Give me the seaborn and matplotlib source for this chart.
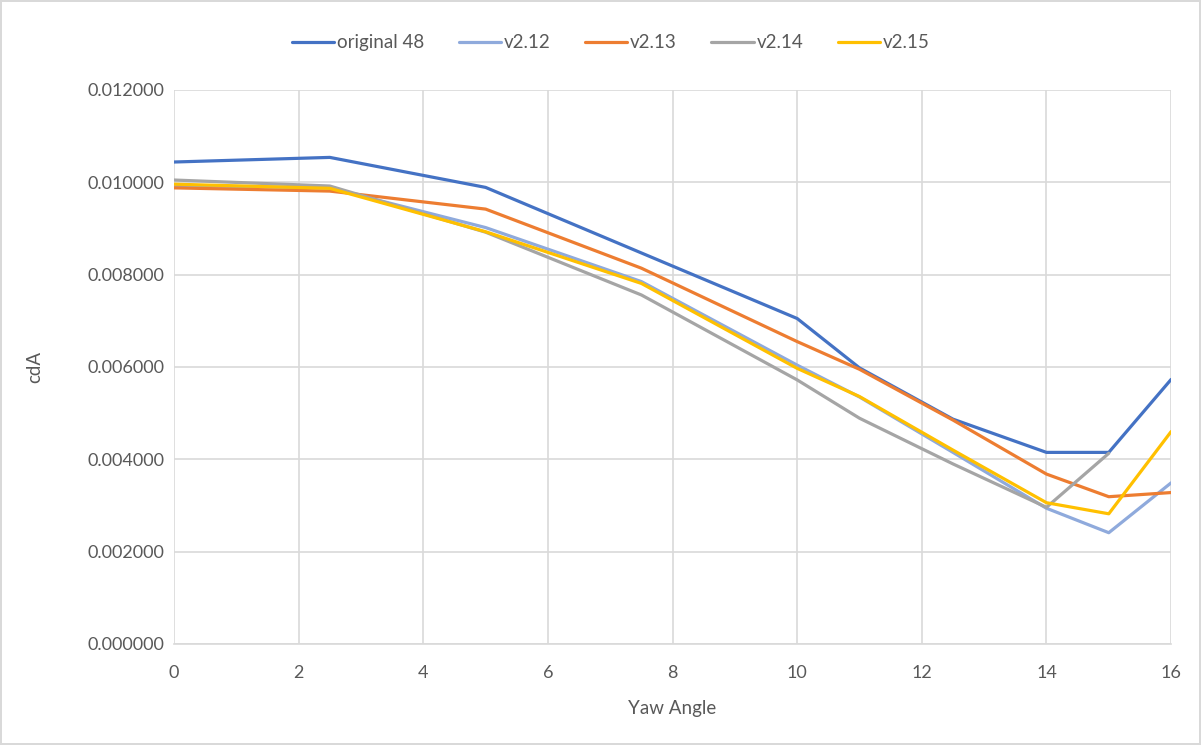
import numpy as np
import pandas as pd
import matplotlib
matplotlib.use("Agg")
import matplotlib.pyplot as plt
import seaborn as sns
from matplotlib.ticker import FormatStrFormatter, MultipleLocator

# Data
yaw_angle = [0, 2.5, 5, 7.5, 10, 11, 12.5, 14, 15, 16]
original_48 = [0.01044, 0.01054, 0.00989, 0.00847, 0.00705, 0.00598, 0.00487, 0.00415, 0.00415, 0.00573]
v2_12 = [0.00993, 0.00988, 0.00902, 0.00785, 0.00604, 0.00535, 0.00415, 0.00294, 0.00241, 0.00349]
v2_13 = [0.00988, 0.00981, 0.00942, 0.00814, 0.00655, 0.00595, 0.00485, 0.00368, 0.00319, 0.00328]
v2_14 = [0.01005, 0.00992, 0.00892, 0.00756, 0.00572, 0.00489, 0.00390, 0.00296, 0.00413, np.nan]
v2_15 = [0.00996, 0.00987, 0.00893, 0.00781, 0.00597, 0.00536, 0.00420, 0.00306, 0.00282, 0.00460]

series_names = ["original 48", "v2.12", "v2.13", "v2.14", "v2.15"]
series_values = [original_48, v2_12, v2_13, v2_14, v2_15]
colors = ["#4472C4", "#8FAADC", "#ED7D31", "#A5A5A5", "#FFC000"]

frames = []
for name, vals in zip(series_names, series_values):
    frames.append(pd.DataFrame({"Yaw Angle": yaw_angle, "cdA": vals, "series": name}))
df = pd.concat(frames, ignore_index=True).dropna()

sns.set_style("white")
plt.rcParams["font.family"] = ["Lato", "DejaVu Sans"]
text_color = "#595959"

fig = plt.figure(figsize=(12.01, 7.45), dpi=100)
fig.patch.set_edgecolor("#D9D9D9")
fig.patch.set_linewidth(1.5)
ax = fig.add_axes([0.1449, 0.1356, 0.8302, 0.7436])

sns.lineplot(data=df, x="Yaw Angle", y="cdA", hue="series", hue_order=series_names,
             palette=colors, linewidth=2.3, ax=ax, sort=True, estimator=None)

ax.set_xlim(0, 16)
ax.set_ylim(0, 0.012)
ax.xaxis.set_major_locator(MultipleLocator(2))
ax.yaxis.set_major_locator(MultipleLocator(0.002))
ax.yaxis.set_major_formatter(FormatStrFormatter("%.6f"))
ax.grid(True, color="#D9D9D9", linewidth=1.2)
ax.set_axisbelow(True)
for side in ["top", "right", "left"]:
    ax.spines[side].set_visible(False)
ax.spines["bottom"].set_color("#D9D9D9")
ax.spines["bottom"].set_linewidth(1.2)
ax.tick_params(axis="both", length=0, labelsize=13, colors=text_color)
ax.tick_params(axis="y", pad=7)
ax.tick_params(axis="x", pad=15)

ax.set_xlabel("Yaw Angle", fontsize=13.5, color=text_color, labelpad=14)
ax.set_ylabel("cdA", fontsize=13.5, color=text_color, labelpad=32)

handles, labels = ax.get_legend_handles_labels()
ax.legend(handles, labels, loc="center", bbox_to_anchor=(0.438, 1.085), ncol=5,
          frameon=False, fontsize=13.5, handlelength=2.25, handletextpad=0.15,
          columnspacing=1.85, labelcolor=text_color)

fig.savefig("out.png", dpi=100)
